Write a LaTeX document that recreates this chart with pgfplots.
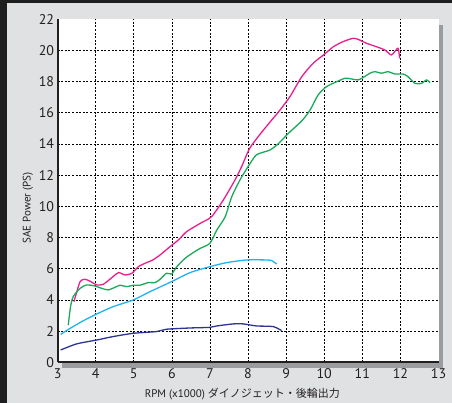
\documentclass[border=0pt]{standalone}
\usepackage{fontspec}
\setmainfont{PT Sans}
\newfontfamily\jp{Noto Sans CJK JP}
\usepackage{pgfplots}
\pgfplotsset{compat=1.18}
\definecolor{frame}{HTML}{1E1E1E}
\definecolor{bg}{HTML}{E0E1E3}
\definecolor{shadow}{HTML}{9B9CA0}
\definecolor{ink}{HTML}{231F20}
\definecolor{pinkc}{HTML}{EC1E8C}
\definecolor{greenc}{HTML}{1AAA5A}
\definecolor{cyanc}{HTML}{1EB4F0}
\definecolor{navyc}{HTML}{2D3592}
\begin{document}
\begin{tikzpicture}
\fill[frame] (0pt,0pt) rectangle (452pt,403pt);
\fill[bg] (7pt,0pt) rectangle (452pt,400pt);
\fill[shadow] (62pt,35pt) rectangle (442.5pt,378pt);
\useasboundingbox (0pt,0pt) rectangle (452pt,403pt);
\begin{axis}[
  at={(57.6pt,40.7pt)}, anchor=south west,
  scale only axis, width=380.9pt, height=343.2pt,
  xmin=3, xmax=13, ymin=0, ymax=22,
  axis background/.style={fill=white},
  axis x line*=bottom, axis y line*=left,
  axis line style={line width=2pt, color=ink},
  xtick={4,...,12}, ytick={2,4,...,20},
  extra x ticks={3,13}, extra y ticks={0,22},
  extra tick style={grid=none},
  grid=major,
  grid style={black, line width=0.7pt, dash pattern=on 2pt off 1.6pt},
  major tick length=0pt,
  tick label style={font=\fontsize{14}{16}\selectfont, color=ink},
  xticklabel style={yshift=-3pt},
  /pgf/number format/assume math mode=true,
  xlabel={RPM (x1000) {\jp ダイノジェット・後輪出力}},
  ylabel={SAE Power (PS)},
  label style={font=\fontsize{11}{13}\selectfont, color=ink},
  xlabel style={at={(axis description cs:0.485,-0.092)}, anchor=center},
  ylabel style={at={(axis description cs:-0.078,0.45)}, anchor=center},
  every axis plot/.append style={line width=1.3pt, smooth, tension=0.4},
]
% magenta
\addplot[pinkc] coordinates {
(3.43,3.89)(3.59,5.17)(3.72,5.32)(3.85,5.2)(4.03,4.96)(4.2,5.0)(4.46,5.5)(4.6,5.75)
(4.77,5.6)(4.95,5.7)(5.12,6.13)(5.3,6.35)(5.5,6.56)(5.69,6.88)(5.95,7.41)(6.17,7.84)
(6.39,8.38)(6.74,8.9)(7.04,9.33)(7.35,10.4)(7.66,11.7)(7.83,12.54)
(8.04,13.7)(8.3,14.57)(8.62,15.53)(8.8,16.05)(9.1,17.03)(9.41,18.31)(9.71,19.17)
(9.98,19.7)(10.24,20.23)(10.5,20.56)(10.76,20.77)(10.89,20.7)(11.11,20.45)
(11.37,20.23)(11.59,20.02)(11.76,19.7)(11.85,19.91)(11.94,20.13)(11.98,19.49)
};
% green
\addplot[greenc] coordinates {
(3.28,2.39)(3.34,3.57)(3.41,4.21)(3.59,4.74)(3.76,4.96)(3.98,4.89)(4.16,4.74)
(4.33,4.64)(4.51,4.81)(4.64,4.94)(4.81,4.85)(4.99,4.94)(5.16,4.94)(5.38,5.11)
(5.56,5.11)(5.69,5.32)(5.86,5.71)(5.99,5.66)(6.13,6.13)(6.35,6.67)(6.56,7.03)
(6.74,7.3)(7.0,7.63)(7.18,8.48)(7.4,9.33)(7.57,10.6)(7.79,11.7)(8.0,12.54)
(8.22,13.3)(8.57,13.6)(8.79,14.0)(9.07,14.7)(9.42,15.5)
(9.63,16.18)(9.84,17.14)(10.06,17.67)(10.33,17.99)(10.55,18.21)(10.72,18.16)
(10.89,18.1)(11.03,18.27)(11.2,18.53)(11.33,18.63)(11.5,18.53)(11.68,18.63)
(11.85,18.48)(12.07,18.48)(12.2,18.31)(12.38,17.88)(12.55,17.88)(12.69,18.1)(12.78,17.93)
};
% cyan
\addplot[cyanc] coordinates {
(3.08,1.79)(3.33,2.18)(3.68,2.67)(4.03,3.1)(4.46,3.57)(4.99,4.0)(5.43,4.53)
(5.99,5.17)(6.48,5.75)(7.0,6.13)(7.44,6.39)(7.96,6.56)(8.49,6.56)(8.62,6.52)(8.75,6.3)
};
% navy
\addplot[navyc] coordinates {
(3.08,0.79)(3.5,1.18)(4.03,1.43)(4.46,1.65)(4.99,1.86)(5.6,1.97)(5.86,2.12)
(6.48,2.2)(7.0,2.24)(7.18,2.33)(7.61,2.46)(7.88,2.46)(8.22,2.33)(8.66,2.29)(8.88,2.03)
};
\end{axis}
\end{tikzpicture}
\end{document}
